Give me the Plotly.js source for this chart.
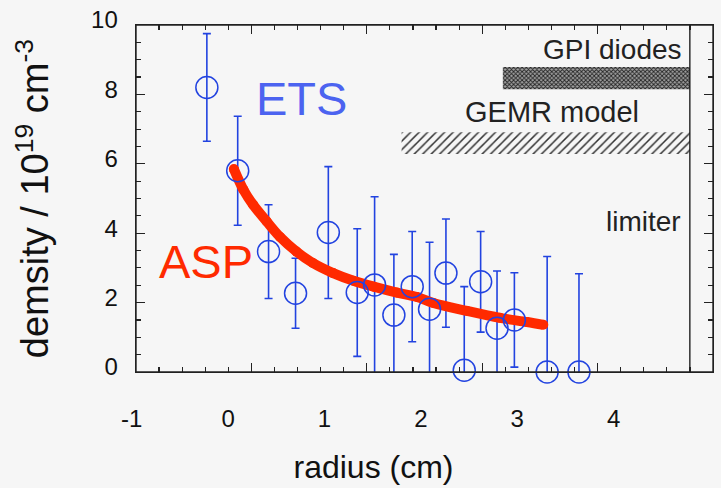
<!DOCTYPE html>
<html>
<head>
<meta charset="utf-8">
<script src="https://cdn.plot.ly/plotly-3.0.1.min.js"></script>
<style>html,body{margin:0;padding:0;background:#f6f6f6;}#chart{width:721px;height:488px;}</style>
</head>
<body>
<div id="chart"></div>
<script>
// ETS measurements (radius in cm, density in 1e19 cm^-3)
const etsRadius  = [-0.22, 0.10, 0.42, 0.70, 1.04, 1.34, 1.52, 1.72, 1.91, 2.09, 2.26, 2.45, 2.62, 2.79, 2.97, 3.31, 3.64];
const etsDensity = [8.20, 5.80, 3.47, 2.27, 4.02, 2.29, 2.51, 1.64, 2.46, 1.81, 2.85, 0.05, 2.60, 1.26, 1.50, 0.0, 0.0];
const etsError   = [1.55, 1.57, 1.35, 1.01, 1.90, 1.84, 2.54, 1.75, 1.59, 1.93, 1.56, 2.41, 1.45, 1.65, 1.36, 3.33, 2.83];

// ASP profile
const aspRadius  = [0.06, 0.16, 0.26, 0.40, 0.54, 0.71, 0.88, 1.09, 1.30, 1.51, 1.75, 1.96, 2.13, 2.48, 2.82, 3.10, 3.27];
const aspDensity = [5.85, 5.25, 4.82, 4.34, 3.89, 3.47, 3.14, 2.85, 2.63, 2.46, 2.29, 2.16, 1.99, 1.76, 1.56, 1.44, 1.36];

// Regions and limiter
const gpiRange  = [2.85, 4.79];
const gpiBand   = [8.15, 8.79];
const gemrRange = [1.80, 4.79];
const gemrBand  = [6.28, 6.91];
const limiterR  = 4.79;

const xTickVals = [-1, 0, 1, 2, 3, 4];
const xTickText = ['-1', '0', '1', '2', '3', '4'];
const yTickVals = [0, 2, 4, 6, 8, 10];

const FONT = 'Liberation Sans, Arial, Helvetica, sans-serif';
const BLUE = '#2243e0';
const RED = '#ff2a00';

function box(xr, yr) {
  return {x: [xr[0], xr[1], xr[1], xr[0], xr[0]], y: [yr[0], yr[0], yr[1], yr[1], yr[0]]};
}
const gpiBox = box(gpiRange, gpiBand);
const gemrBox = box(gemrRange, gemrBand);

const traces = [
  {x: gpiBox.x, y: gpiBox.y, type: 'scatter', mode: 'lines', fill: 'toself', xaxis: 'x', yaxis: 'y',
   line: {width: 0, color: 'rgba(0,0,0,0)'}, fillcolor: '#9a9a9a',
   fillpattern: {shape: 'x', size: 3, solidity: 0.5, fgcolor: '#222', bgcolor: '#a0a0a0'},
   hoverinfo: 'skip'},
  {x: gemrBox.x, y: gemrBox.y, type: 'scatter', mode: 'lines', fill: 'toself', xaxis: 'x', yaxis: 'y',
   line: {width: 0, color: 'rgba(0,0,0,0)'}, fillcolor: 'rgba(0,0,0,0)',
   fillpattern: {shape: '/', size: 6, solidity: 0.25, fgcolor: '#333', bgcolor: 'rgba(0,0,0,0)'},
   hoverinfo: 'skip'},
  {x: [limiterR, limiterR], y: [0, 10], type: 'scatter', mode: 'lines', xaxis: 'x', yaxis: 'y',
   line: {color: '#111', width: 1.3}},
  // error bars (clipped at the axes)
  {x: etsRadius, y: etsDensity, type: 'scatter', mode: 'markers', cliponaxis: true, xaxis: 'x2', yaxis: 'y',
   marker: {size: 1, opacity: 0},
   error_y: {type: 'data', array: etsError, visible: true, color: BLUE, thickness: 1.6, width: 4}},
  // ASP curve
  {x: aspRadius, y: aspDensity, type: 'scatter', mode: 'lines+markers', xaxis: 'x2', yaxis: 'y',
   line: {color: RED, width: 10, shape: 'spline'}, marker: {color: RED, size: 10}},
  // ETS circles
  {x: etsRadius, y: etsDensity, type: 'scatter', mode: 'markers', cliponaxis: false, xaxis: 'x2', yaxis: 'y',
   marker: {symbol: 'circle-open', size: 22, color: BLUE, line: {width: 1.5, color: BLUE}}}
];

const ML = 100, PLOT_W = 721 - 100 - 8;
const layout = {
  width: 721, height: 488,
  paper_bgcolor: '#f6f6f6', plot_bgcolor: 'rgba(0,0,0,0)',
  showlegend: false,
  margin: {l: ML, r: 8, t: 25, b: 116},
  font: {family: FONT, color: '#111'},
  // frame axis (same radius scale as the labels, ticks follow the original frame)
  xaxis: {
    domain: [36 / PLOT_W, 1], anchor: 'y',
    range: [-0.955, 5.030], tick0: -0.955, dtick: 1.197,
    showticklabels: false, ticks: 'inside', ticklen: 9, tickwidth: 1.3, tickcolor: '#222',
    minor: {ticks: 'inside', tick0: -0.955, dtick: 0.2394, ticklen: 5, tickwidth: 1.2, tickcolor: '#222'},
    showline: true, linecolor: '#222', linewidth: 1.4, mirror: 'ticks',
    showgrid: false, zeroline: false
  },
  // label axis (radius in cm)
  xaxis2: {
    domain: [0, 547 / PLOT_W], anchor: 'y',
    range: [-1.3285, 4.3457], tickmode: 'array', tickvals: xTickVals, ticktext: xTickText,
    ticks: '', showline: false, showgrid: false, zeroline: false,
    tickfont: {size: 24, family: FONT, color: '#111'}, ticklabelstandoff: 30,
    title: {text: 'radius (cm)', font: {size: 32, family: FONT, color: '#111'}, standoff: 24}
  },
  yaxis: {
    range: [0, 10], tickmode: 'array', tickvals: yTickVals, anchor: 'x',
    ticks: 'inside', ticklen: 9, tickwidth: 1.3, tickcolor: '#222',
    minor: {ticks: 'inside', dtick: 0.5, ticklen: 5, tickwidth: 1.2, tickcolor: '#222'},
    showline: true, linecolor: '#222', linewidth: 1.4, mirror: 'ticks',
    showgrid: false, zeroline: false,
    tickfont: {size: 24, family: FONT, color: '#111'}, ticklabelshift: -5, ticklabelstandoff: 12,
    title: {text: 'demsity / 10<sup>19</sup> cm<sup>-3</sup>', font: {size: 38, family: FONT, color: '#111'}, standoff: 30}
  },
  shapes: [
    {type: 'rect', xref: 'x domain', yref: 'y domain', x0: 0, x1: 1, y0: 0, y1: 1,
     line: {color: '#222', width: 1.4}, fillcolor: 'rgba(0,0,0,0)', layer: 'above'}
  ],
  annotations: [
    {x: 0.757, y: 7.87, xref: 'x', yref: 'y', text: 'ETS', showarrow: false,
     font: {size: 47, family: FONT, color: '#4c63f0'}},
    {x: -0.234, y: 3.19, xref: 'x', yref: 'y', text: 'ASP', showarrow: false,
     font: {size: 47, family: FONT, color: RED}},
    {x: 4.73, y: 9.29, xref: 'x', yref: 'y', xanchor: 'right', text: 'GPI diodes', showarrow: false,
     font: {size: 28, family: FONT, color: '#222'}},
    {x: 4.28, y: 7.48, xref: 'x', yref: 'y', xanchor: 'right', text: 'GEMR model', showarrow: false,
     font: {size: 29, family: FONT, color: '#222'}},
    {x: 4.72, y: 4.34, xref: 'x', yref: 'y', xanchor: 'right', text: 'limiter', showarrow: false,
     font: {size: 28, family: FONT, color: '#222'}}
  ]
};

Plotly.newPlot('chart', traces, layout, {displayModeBar: false, staticPlot: true});
</script>
</body>
</html>
